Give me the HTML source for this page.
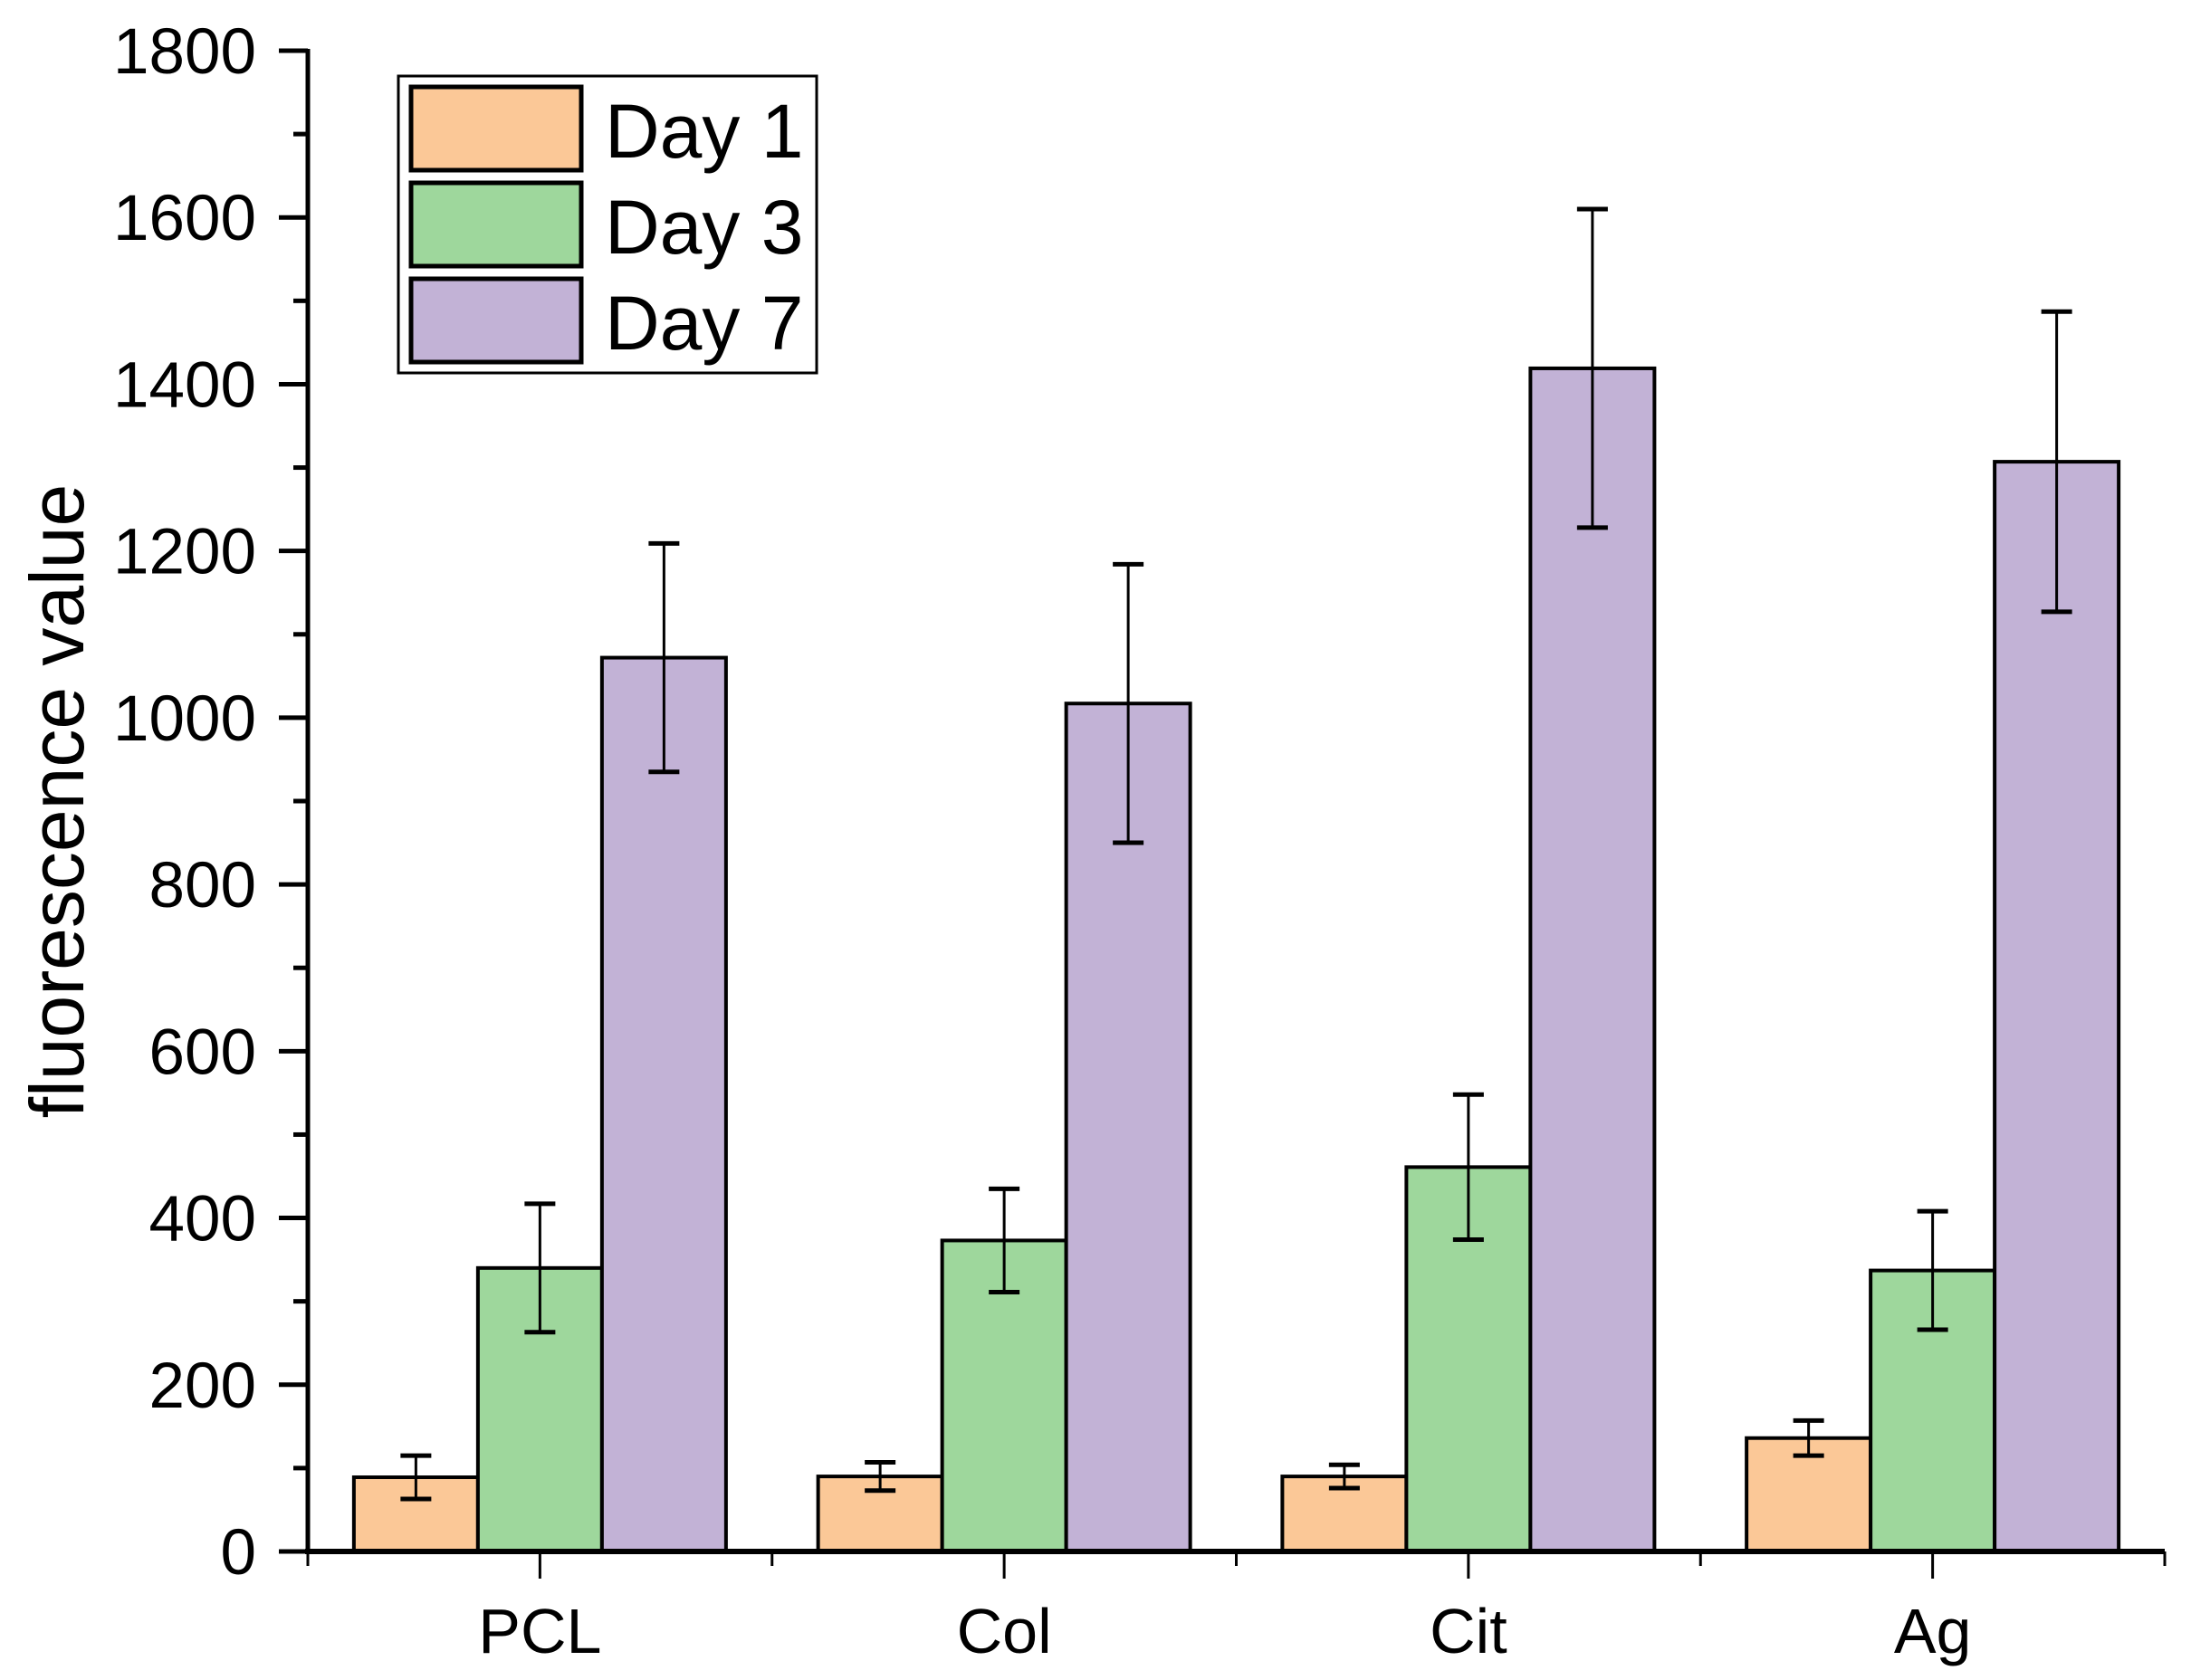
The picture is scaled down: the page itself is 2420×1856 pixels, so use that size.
<!DOCTYPE html>
<html><head><meta charset="utf-8"><style>
html,body{margin:0;padding:0;background:#fff}
svg{display:block}
text{font-family:"Liberation Sans",Arial,sans-serif;fill:#000}
</style></head><body>
<svg id="chart" width="2420" height="1856" viewBox="0 0 2420 1856" xmlns="http://www.w3.org/2000/svg">
<g id="plot"></g>
</svg>
<script>
const categories = ["PCL","Col","Cit","Ag"];
const seriesNames = ["Day 1","Day 3","Day 7"];
const day1 = [89, 90, 90, 136];
const day3 = [340, 373, 461, 337];
const day7 = [1072, 1017, 1419, 1307];
const err1 = [26, 17, 14, 21];
const err3 = [77, 62, 87, 71];
const err7 = [137, 167, 191, 180];
const yTicks = [0,200,400,600,800,1000,1200,1400,1600,1800];
const colors = ["#FBC897","#9ED79C","#C2B2D6"];

const NS="http://www.w3.org/2000/svg";
const g=document.getElementById('plot');
const X0=340, X1=2391, Y0=1714, Ytop=56, YMAX=1800;
const groupW=(X1-X0)/4;
const barW=137;
function y(v){return Y0-(v/YMAX)*(Y0-Ytop);}
function gx(i){return X0+i*groupW;}
function mk(tag,attrs,parent){const e=document.createElementNS(NS,tag);for(const k in attrs)e.setAttribute(k,attrs[k]);(parent||g).appendChild(e);return e;}

const series=[day1,day3,day7], errs=[err1,err3,err7];
categories.forEach((c,i)=>{
  const start=gx(i)+(groupW-3*barW)/2;
  series.forEach((s,j)=>{
    const x=start+j*barW;
    const r=mk('rect',{x:x,y:y(s[i]),width:barW,height:Y0-y(s[i]),fill:colors[j],stroke:'#000','stroke-width':4});
    
    
  });
  series.forEach((s,j)=>{
    const cx=start+j*barW+barW/2;
    const eg=mk('g',{stroke:'#000','stroke-width':3});
    
    
    const hi=y(s[i]+errs[j][i]), lo=y(s[i]-errs[j][i]);
    mk('line',{x1:cx,x2:cx,y1:hi,y2:lo},eg);
    mk('line',{x1:cx-17,x2:cx+17,y1:hi,y2:hi,'stroke-width':5},eg);
    mk('line',{x1:cx-17,x2:cx+17,y1:lo,y2:lo,'stroke-width':5},eg);
  });
  const t=mk('text',{x:gx(i)+groupW/2,y:1826,'font-size':70,'text-anchor':'middle'});
  t.textContent=c;
  
  
});

// axes
const ax=mk('g',{stroke:'#000'});


mk('line',{x1:X0,x2:X0,y1:Ytop-2,y2:Y0+3,'stroke-width':5},ax);
mk('line',{x1:X0-3,x2:X1,y1:Y0,y2:Y0,'stroke-width':6},ax);
yTicks.forEach((v,k)=>{
  mk('line',{x1:X0-32,x2:X0,y1:y(v),y2:y(v),'stroke-width':5},ax);
  if(k<yTicks.length-1){const m=v+100;mk('line',{x1:X0-16,x2:X0,y1:y(m),y2:y(m),'stroke-width':5},ax);}
  const t=mk('text',{x:283,y:y(v)+25,'font-size':71,'text-anchor':'end'});
  t.textContent=v;
  
  
});
for(let i=0;i<=4;i++){mk('line',{x1:gx(i),x2:gx(i),y1:Y0,y2:Y0+16,'stroke-width':3},ax);}
for(let i=0;i<4;i++){const cx=gx(i)+groupW/2;mk('line',{x1:cx,x2:cx,y1:Y0,y2:Y0+30,'stroke-width':3},ax);}

const yt=mk('text',{x:0,y:0,'font-size':84,'text-anchor':'middle',transform:'translate(92,885) rotate(-90)'});
yt.textContent='fluorescence value';



// legend
const lg=mk('g',{});


mk('rect',{x:440,y:84,width:462,height:328,fill:'#fff',stroke:'#000','stroke-width':3},lg);
seriesNames.forEach((n,j)=>{
  const yy=96+j*106;
  const e=mk('g',{},lg);
  
  
  mk('rect',{x:454,y:yy,width:188,height:92,fill:colors[j],stroke:'#000','stroke-width':5},e);
  const t=mk('text',{x:668,y:yy+78,'font-size':84},e);
  t.textContent=n;
});
</script>
</body></html>
